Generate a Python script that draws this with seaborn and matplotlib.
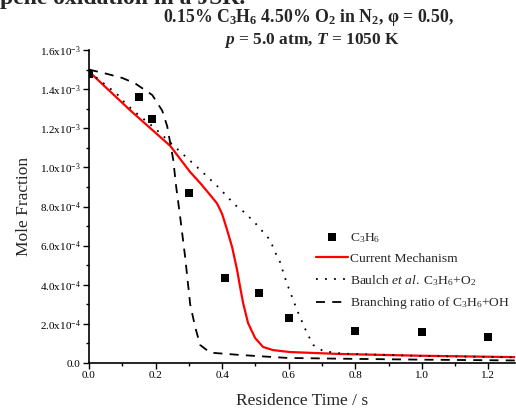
import numpy as np
import pandas as pd
import matplotlib
matplotlib.use("Agg")
import matplotlib.pyplot as plt
import seaborn as sns
from matplotlib.ticker import FixedLocator, MultipleLocator

# ---------------- data ----------------
exp_t = [0.0, 0.15, 0.19, 0.30, 0.41, 0.51, 0.60, 0.80, 1.00, 1.20]
exp_c3h6 = [1.478e-3, 1.36e-3, 1.247e-3, 0.87e-3, 0.435e-3, 0.358e-3, 0.232e-3,
            0.164e-3, 0.158e-3, 0.133e-3]

cur_t = [0.0, 0.123, 0.244, 0.304, 0.334, 0.364, 0.385, 0.40, 0.415, 0.43, 0.445,
         0.454, 0.463, 0.478, 0.499, 0.523, 0.553, 0.604, 0.755, 1.0, 1.28]
cur_y = [1.49e-3, 1.293e-3, 1.11e-3, 0.976e-3, 0.92e-3, 0.859e-3, 0.815e-3,
         0.762e-3, 0.68e-3, 0.593e-3, 0.475e-3, 0.389e-3, 0.307e-3, 0.204e-3,
         0.128e-3, 0.082e-3, 0.066e-3, 0.056e-3, 0.046e-3, 0.037e-3, 0.03e-3]

baulch_t = [0.0, 0.054, 0.084, 0.108, 0.138, 0.168, 0.198, 0.274, 0.334, 0.388,
            0.439, 0.469, 0.499, 0.544, 0.559, 0.574, 0.589, 0.60, 0.625, 0.655,
            0.674, 0.704, 0.76, 1.0, 1.28]
baulch_y = [1.49e-3, 1.416e-3, 1.375e-3, 1.33e-3, 1.283e-3, 1.242e-3, 1.20e-3,
            1.08e-3, 0.987e-3, 0.90e-3, 0.808e-3, 0.767e-3, 0.716e-3, 0.629e-3,
            0.567e-3, 0.516e-3, 0.435e-3, 0.383e-3, 0.271e-3, 0.153e-3, 0.092e-3,
            0.061e-3, 0.048e-3, 0.036e-3, 0.029e-3]

branch_t = [0.0, 0.054, 0.10, 0.138, 0.19, 0.22, 0.235, 0.244, 0.253, 0.262, 0.274,
            0.289, 0.304, 0.319, 0.334, 0.364, 0.454, 0.595, 0.755, 1.0, 1.28]
branch_y = [1.50e-3, 1.478e-3, 1.457e-3, 1.43e-3, 1.37e-3, 1.29e-3, 1.21e-3,
            1.125e-3, 1.04e-3, 0.90e-3, 0.746e-3, 0.54e-3, 0.30e-3, 0.184e-3,
            0.092e-3, 0.053e-3, 0.041e-3, 0.026e-3, 0.022e-3, 0.017e-3, 0.013e-3]

yticks = [0.0, 2e-4, 4e-4, 6e-4, 8e-4, 1.0e-3, 1.2e-3, 1.4e-3, 1.6e-3]
ytick_labels = ["0.0", r"2.0x10$^{-4}$", r"4.0x10$^{-4}$", r"6.0x10$^{-4}$",
                r"8.0x10$^{-4}$", r"1.0x10$^{-3}$", r"1.2x10$^{-3}$",
                r"1.4x10$^{-3}$", r"1.6x10$^{-3}$"]
xticks = [0.0, 0.2, 0.4, 0.6, 0.8, 1.0, 1.2]
xtick_labels = ["0.0", "0.2", "0.4", "0.6", "0.8", "1.0", "1.2"]

# ---------------- style ----------------
sns.set_style("ticks")
plt.rcParams['font.family'] = ['Liberation Serif', 'DejaVu Serif']
plt.rcParams['mathtext.fontset'] = 'custom'
plt.rcParams['mathtext.rm'] = 'Liberation Serif'
plt.rcParams['mathtext.it'] = 'Liberation Serif:italic'
plt.rcParams['mathtext.bf'] = 'Liberation Serif:bold'
plt.rcParams['mathtext.bfit'] = 'Liberation Serif:italic:bold'

fig = plt.figure(figsize=(5.16, 4.11), dpi=100)
ax = fig.add_axes([89/516, 1-363/411, (515-89)/516, (363-50)/411])

df_cur = pd.DataFrame({"t": cur_t, "y": cur_y})
df_bau = pd.DataFrame({"t": baulch_t, "y": baulch_y})
df_br = pd.DataFrame({"t": branch_t, "y": branch_y})
df_exp = pd.DataFrame({"t": exp_t, "y": exp_c3h6})

sns.scatterplot(data=df_exp, x="t", y="y", ax=ax, marker="s", s=30, color="black",
                edgecolor="black", linewidth=0, label=r"C$_3$H$_6$", zorder=5)
sns.lineplot(data=df_cur, x="t", y="y", ax=ax, color="#ff0000", lw=1.6,
             label="Current Mechanism", sort=False)
sns.lineplot(data=df_bau, x="t", y="y", ax=ax, color="black", lw=1.3,
             label=r"Baulch $\mathit{et\ al.}$ C$_3$H$_6$+O$_2$", sort=False)
ax.lines[-1].set_dashes([1, 4])
sns.lineplot(data=df_br, x="t", y="y", ax=ax, color="black", lw=1.3,
             label=r"Branching ratio of C$_3$H$_6$+OH", sort=False)
ax.lines[-1].set_dashes([5, 4])
for ln in ax.lines:
    ln.set_solid_joinstyle('round')
    ln.set_dash_joinstyle('round')

ax.set_xlim(0, 1.28)
ax.set_ylim(0, 1.6e-3)
ax.xaxis.set_major_locator(FixedLocator(xticks))
ax.set_xticklabels(xtick_labels)
ax.xaxis.set_minor_locator(MultipleLocator(0.1))
ax.yaxis.set_major_locator(FixedLocator(yticks))
ax.set_yticklabels(ytick_labels)
ax.yaxis.set_minor_locator(MultipleLocator(1e-4))
ax.tick_params(axis='both', which='major', direction='out', length=4, width=1,
               labelsize=8, color='black', labelcolor='black', pad=2)
ax.tick_params(axis='both', which='minor', direction='out', length=2.5, width=1,
               color='black')
for s in ['top', 'right']:
    ax.spines[s].set_visible(False)
for s in ['left', 'bottom']:
    ax.spines[s].set_linewidth(1.2)
    ax.spines[s].set_color('black')

ax.set_xlabel("Residence Time / s", fontsize=12.5, labelpad=9)
ax.set_ylabel("Mole Fraction", fontsize=12.5, labelpad=6)

leg = ax.legend(loc='upper left', bbox_to_anchor=(0.51, 0.452), frameon=False,
                fontsize=9.7, handlelength=2.4, handletextpad=0.15,
                labelspacing=0.58, borderpad=0.2)

fig.text(308/516, 1-18/411, r"0.15% C$_{\mathbf{3}}$H$_{\mathbf{6}}$ 4.50% O$_{\mathbf{2}}$ in N$_{\mathbf{2}}$, φ = 0.50,",
         ha='center', va='center', fontsize=12.8, fontweight='bold')
fig.text(312/516, 1-40/411, r"$\mathbfit{p}$ = 5.0 atm, $\mathbfit{T}$ = 1050 K",
         ha='center', va='center', fontsize=12.5, fontweight='bold')
fig.text(0.0, 1-4/411, "pene oxidation in a JSR.", ha='left', va='baseline',
         fontsize=17, fontweight='bold')

fig.savefig("out.png", dpi=100)
